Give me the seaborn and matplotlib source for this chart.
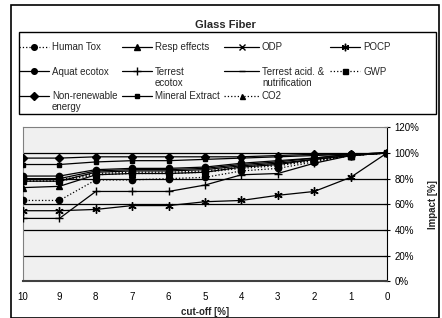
import matplotlib
matplotlib.use("Agg")
import matplotlib.pyplot as plt
import matplotlib.patches as mpatches
import seaborn as sns
import pandas as pd

cutoff = [10, 9, 8, 7, 6, 5, 4, 3, 2, 1, 0]

human_tox      = [63, 63, 79, 79, 80, 81, 86, 88, 93, 98, 100]
resp_effects   = [73, 74, 83, 84, 84, 85, 89, 91, 95, 98, 100]
odp            = [78, 78, 85, 86, 86, 87, 90, 92, 95, 98, 100]
pocp           = [55, 55, 56, 59, 59, 62, 63, 67, 70, 81, 100]
aquat_ecotox   = [82, 82, 87, 88, 88, 89, 92, 94, 96, 99, 100]
terrest_ecotox = [49, 49, 70, 70, 70, 75, 83, 84, 92, 98, 100]
terrest_acid   = [80, 80, 86, 87, 87, 88, 91, 93, 96, 99, 100]
gwp            = [79, 79, 84, 85, 85, 86, 89, 91, 94, 98, 100]
non_renewable  = [96, 96, 97, 97, 97, 97, 97, 98, 99, 99, 100]
mineral        = [91, 91, 93, 94, 94, 95, 96, 97, 98, 99, 100]
co2            = [78, 78, 83, 84, 84, 85, 88, 90, 94, 98, 100]

# legend first lines and continuation lines
labels = ["Human Tox", "Resp effects", "ODP", "POCP",
          "Aquat ecotox", "Terrest", "Terrest acid. &", "GWP",
          "Non-renewable", "Mineral Extract", "CO2"]
second_lines = {"Terrest": "ecotox", "Terrest acid. &": "nutrification",
                "Non-renewable": "energy"}
series = [human_tox, resp_effects, odp, pocp,
          aquat_ecotox, terrest_ecotox, terrest_acid, gwp,
          non_renewable, mineral, co2]
styles = [(":", "o", 4.5), ("-", "^", 4.5), ("-", "x", 4.5), ("-", (6, 2, 0), 6),
          ("-", "o", 4.5), ("-", "+", 6), ("-", "_", 5), (":", "s", 4),
          ("-", "D", 4), ("-", "s", 3.5), (":", "^", 4)]

sns.set_style("white")
plt.rcParams['font.family'] = ['Liberation Sans', 'DejaVu Sans']

W, H = 442, 318
fig = plt.figure(figsize=(W / 100, H / 100), dpi=100)
ax = fig.add_axes([23 / W, 1 - 281.3 / H, (387 - 23) / W, (281.3 - 127.3) / H])
ax.set_facecolor("#f0f0f0")

for y in [20, 40, 60, 80, 100]:
    ax.axhline(y, color="black", lw=0.9, zorder=1)

for lab, vals, (ls, mk, ms) in zip(labels, series, styles):
    df = pd.DataFrame({"cutoff": cutoff, "impact": vals})
    sns.lineplot(data=df, x="cutoff", y="impact", ax=ax, color="black",
                 linestyle=ls, marker=mk, markersize=ms, lw=0.9,
                 markeredgecolor="black", markerfacecolor="black",
                 markeredgewidth=1.0, label=lab, zorder=3)

h, l = ax.get_legend_handles_labels()
ax.get_legend().remove()

# legend: four columns, each a matplotlib legend at its own x
columns = [[0, 4, 8], [1, 5, 9], [2, 6, 10], [3, 7]]
col_x = [19, 122, 224, 330]
col_hl = [3.1, 3.1, 3.6, 3.1]
legs = []
for idx, x0, hl in zip(columns, col_x, col_hl):
    lg = fig.legend([h[i] for i in idx], [l[i] for i in idx], loc="upper left",
                    bbox_to_anchor=(x0 / W, 1 - 42 / H), ncol=1, fontsize=7,
                    frameon=False, handlelength=hl, handletextpad=0.3,
                    labelspacing=1.5, borderaxespad=0, borderpad=0,
                    markerscale=0.9)
    legs.append(lg)

fig.canvas.draw()
r = fig.canvas.get_renderer()
for lg in legs:
    for t in lg.get_texts():
        s = t.get_text()
        if s in second_lines:
            bb = t.get_window_extent(r)
            fig.text(bb.x0 / W, (bb.y0 - 1) / H, second_lines[s], fontsize=7,
                     ha="left", va="top")

leg_frame = mpatches.Rectangle((19 / W, 1 - 114 / H), (436 - 19) / W, (114 - 32) / H,
                               transform=fig.transFigure, fill=False,
                               edgecolor="black", lw=1.0)
fig.patches.append(leg_frame)

ax.set_xlim(10, 0)
ax.set_ylim(0, 120)
ax.set_xticks(cutoff)
ax.set_xticklabels([str(c) for c in cutoff], fontsize=7)
ax.set_yticks([0, 20, 40, 60, 80, 100, 120])
ax.set_yticklabels([f"{v}%" for v in [0, 20, 40, 60, 80, 100, 120]], fontsize=7)
ax.yaxis.tick_right()
ax.yaxis.set_label_position("right")
ax.tick_params(axis="both", direction="inout", length=5, width=0.8, colors="black", pad=3)
ax.tick_params(axis="x", pad=5)
ax.set_xlabel("cut-off [%]", fontsize=7, fontweight="bold")
ax.set_ylabel("Impact [%]", fontsize=7, fontweight="bold", labelpad=6)
ax.xaxis.set_label_coords(0.5, -0.165)

for s in ["top", "left"]:
    ax.spines[s].set_color("#808080")
    ax.spines[s].set_linewidth(0.8)
ax.spines["bottom"].set_color("#404040")
ax.spines["bottom"].set_linewidth(1.5)
ax.spines["right"].set_color("black")
ax.spines["right"].set_linewidth(0.8)
for s in ax.spines.values():
    s.set_visible(True)

fig.text(225 / W, 1 - 25 / H, "Glass Fiber", ha="center", va="center",
         fontsize=8, fontweight="bold")

frame = mpatches.Rectangle((11 / W, 0), (439 - 11) / W, 1 - 5 / H,
                           transform=fig.transFigure, fill=False,
                           edgecolor="black", lw=1.2)
fig.patches.append(frame)

fig.savefig("out.png", dpi=100)
